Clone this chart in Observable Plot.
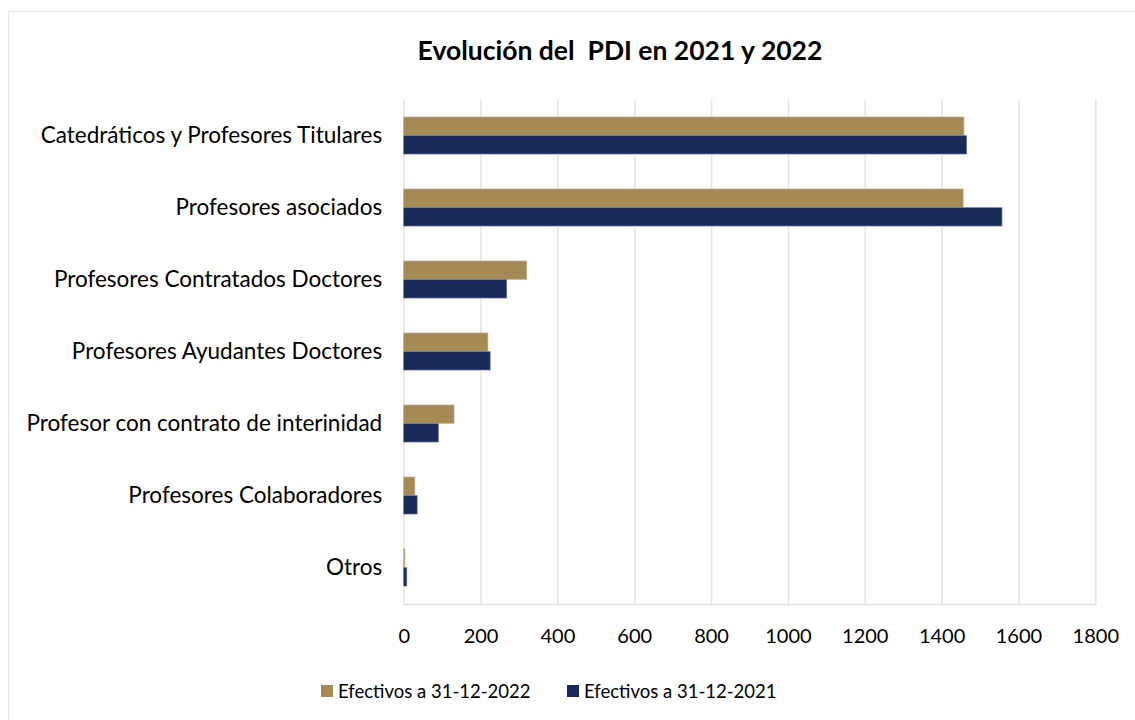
<!DOCTYPE html>
<html><head><meta charset="utf-8">
<script src="https://cdn.jsdelivr.net/npm/d3@7"></script>
<script src="https://cdn.jsdelivr.net/npm/@observablehq/plot@0.6"></script>
<style>
html,body{margin:0;padding:0;background:#fff;}
#wrap{position:relative;width:1135px;height:720px;overflow:hidden;font-family:Lato,"Open Sans",sans-serif;color:#000}
#border{position:absolute;left:8px;top:11px;width:1300px;height:900px;border:1.5px solid #ebe6dc;box-sizing:border-box}
#title{position:absolute;left:0;width:1240px;top:32px;text-align:center;font-weight:bold;font-size:26.5px;white-space:pre;line-height:36px}
#chart{position:absolute;left:0;top:0}
.leg{position:absolute;top:679px;font-size:18.5px;line-height:24px;white-space:nowrap;display:flex;align-items:center}
.sw{display:inline-block;width:12px;height:12px;margin-right:5px}
</style>
</head><body>
<div id="wrap">
  <div id="border"></div>
  <div id="chart"></div>
  <div id="title"></div>
  <div id="legend"></div>
</div>
<script>
const categories = [
  "Catedráticos y Profesores Titulares",
  "Profesores asociados",
  "Profesores Contratados Doctores",
  "Profesores Ayudantes Doctores",
  "Profesor con contrato de interinidad",
  "Profesores Colaboradores",
  "Otros"
];
const values2022 = [1458, 1456, 320, 219, 131, 29, 3];
const values2021 = [1465, 1557, 268, 225, 90, 35, 8];
const seriesNames = ["Efectivos a 31-12-2022", "Efectivos a 31-12-2021"];
const seriesColors = ["#a68a55", "#182a59"];
const xTicks = [0, 200, 400, 600, 800, 1000, 1200, 1400, 1600, 1800];
const titleText = "Evolución del  PDI en 2021 y 2022";

const d2022 = categories.map((c, i) => ({category: c, value: values2022[i]}));
const d2021 = categories.map((c, i) => ({category: c, value: values2021[i]}));

const W = 1135, H = 650;
const mTop = 99.7, mBottom = H - 604, mLeft = 403.7, mRight = W - 1095.3;
const padIn = 0.48, padOut = 0.24;
const step = (H - mTop - mBottom) / (categories.length - padIn + 2 * padOut);
const half = step * (1 - padIn) / 2;

const plot = Plot.plot({
  width: W, height: H,
  marginTop: mTop, marginBottom: mBottom, marginLeft: mLeft, marginRight: mRight,
  style: {fontFamily: "Lato, 'Open Sans', sans-serif", fontSize: "20px", color: "#000", background: "transparent"},
  x: {domain: [0, 1800], axis: null, label: null},
  y: {domain: categories, type: "band", paddingInner: padIn, paddingOuter: padOut, axis: null, label: null},
  marks: [
    Plot.gridX(xTicks, {stroke: "#e9e3d8", strokeOpacity: 1, strokeWidth: 1.5}),
    Plot.frame({anchor: "bottom", stroke: "#e6e0d4", strokeWidth: 1.5}),
    Plot.barX(d2022, {x: "value", y: "category", fill: seriesColors[0], insetBottom: half, stroke: "#c2ab7e", strokeWidth: 0.7}),
    Plot.barX(d2021, {x: "value", y: "category", fill: seriesColors[1], insetTop: half, stroke: "#5d6c93", strokeWidth: 0.7}),
    Plot.axisX(xTicks, {tickSize: 0, tickPadding: 24, fontSize: 20, fill: "#000", label: null, tickFormat: d => String(d)}),
    Plot.axisY({tickSize: 0, tickPadding: 22, fontSize: 22.5, fill: "#000", label: null})
  ]
});
document.getElementById("chart").appendChild(plot);
document.getElementById("title").textContent = titleText;

const legend = document.getElementById("legend");
const legLeft = [321, 567];
seriesNames.forEach((name, i) => {
  const item = document.createElement("div");
  item.className = "leg";
  item.style.left = legLeft[i] + "px";
  const sw = document.createElement("span");
  sw.className = "sw";
  sw.style.background = seriesColors[i];
  item.appendChild(sw);
  item.appendChild(document.createTextNode(name));
  legend.appendChild(item);
});
</script>
</body></html>
